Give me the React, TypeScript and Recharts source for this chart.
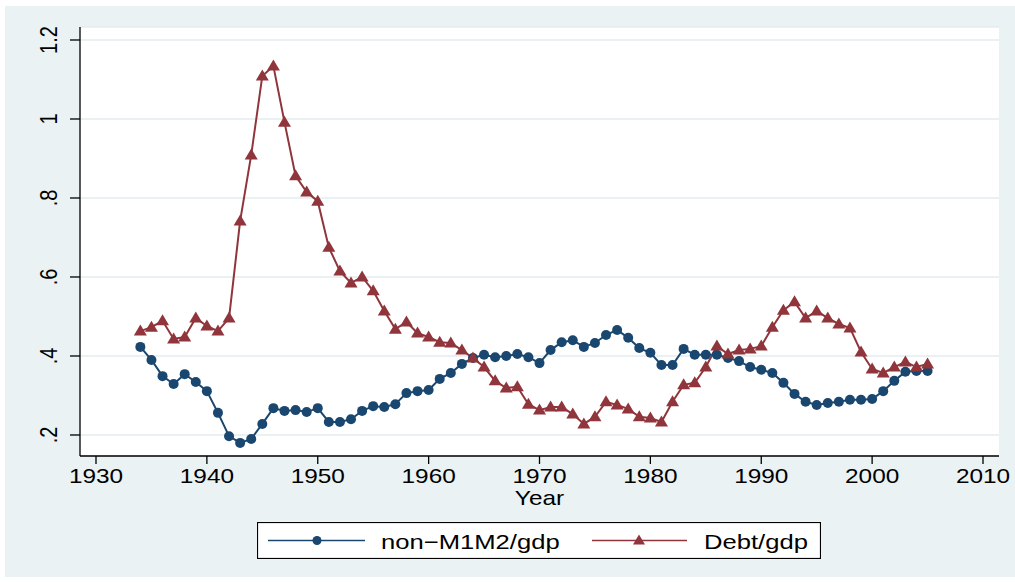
import { LineChart, Line, XAxis, YAxis, CartesianGrid, Legend } from "recharts"

// years 1934-2005
const years = [
  1934, 1935, 1936, 1937, 1938, 1939, 1940, 1941, 1942, 1943,
  1944, 1945, 1946, 1947, 1948, 1949, 1950, 1951, 1952, 1953,
  1954, 1955, 1956, 1957, 1958, 1959, 1960, 1961, 1962, 1963,
  1964, 1965, 1966, 1967, 1968, 1969, 1970, 1971, 1972, 1973,
  1974, 1975, 1976, 1977, 1978, 1979, 1980, 1981, 1982, 1983,
  1984, 1985, 1986, 1987, 1988, 1989, 1990, 1991, 1992, 1993,
  1994, 1995, 1996, 1997, 1998, 1999, 2000, 2001, 2002, 2003,
  2004, 2005,
]

const nonM1M2 = [
  0.423, 0.390, 0.349, 0.329, 0.354, 0.334, 0.311, 0.256, 0.197, 0.180,
  0.190, 0.228, 0.268, 0.261, 0.263, 0.258, 0.268, 0.233, 0.233, 0.240,
  0.261, 0.273, 0.271, 0.278, 0.306, 0.311, 0.314, 0.342, 0.357, 0.380,
  0.395, 0.403, 0.397, 0.400, 0.405, 0.397, 0.382, 0.415, 0.435, 0.440,
  0.423, 0.433, 0.453, 0.466, 0.446, 0.420, 0.408, 0.377, 0.377, 0.418,
  0.403, 0.403, 0.403, 0.395, 0.387, 0.372, 0.365, 0.357, 0.332, 0.304,
  0.284, 0.276, 0.281, 0.284, 0.289, 0.289, 0.291, 0.311, 0.337, 0.360,
  0.362, 0.362,
]

const debt = [
  0.463, 0.473, 0.489, 0.443, 0.448, 0.496, 0.476, 0.463, 0.496, 0.742,
  0.909, 1.109, 1.134, 0.992, 0.856, 0.815, 0.792, 0.675, 0.615, 0.585,
  0.600, 0.565, 0.514, 0.468, 0.486, 0.458, 0.448, 0.435, 0.433, 0.415,
  0.395, 0.372, 0.337, 0.319, 0.322, 0.278, 0.263, 0.271, 0.271, 0.253,
  0.228, 0.246, 0.284, 0.276, 0.266, 0.246, 0.243, 0.233, 0.284, 0.327,
  0.332, 0.372, 0.425, 0.405, 0.415, 0.418, 0.425, 0.473, 0.516, 0.537,
  0.496, 0.514, 0.496, 0.481, 0.471, 0.410, 0.367, 0.357, 0.372, 0.385,
  0.372, 0.380,
]

const xTicks = [1930, 1940, 1950, 1960, 1970, 1980, 1990, 2000, 2010]
const yTicks = [0.2, 0.4, 0.6, 0.8, 1, 1.2]
const yTickLabels = [".2", ".4", ".6", ".8", "1", "1.2"]

const data = years.map((year, i) => ({ year, nonM1M2: nonM1M2[i], debt: debt[i] }))

const BLUE = "#1A476F"
const RED = "#90353B"
const BG = "#EAF2F3"
const GRID = "#E3ECEE"
const FONT = "'Liberation Sans', Arial, Helvetica, sans-serif"
const STRETCH = 1.22

function XTick({ x, y, payload }: any) {
  return (
    <g transform={`translate(${x},${y})`}>
      <text x={0} y={17} textAnchor="middle" transform={`scale(${STRETCH},1)`} fontSize={20} fontFamily={FONT} fill="#000">
        {payload.value}
      </text>
    </g>
  )
}

function YTick({ x, y, payload }: any) {
  const i = yTicks.indexOf(payload.value)
  return (
    <g transform={`translate(${x - 11},${y}) scale(${STRETCH},1) rotate(-90)`}>
      <text x={0} y={0} textAnchor="middle" fontSize={20} fontFamily={FONT} fill="#000">
        {yTickLabels[i] ?? payload.value}
      </text>
    </g>
  )
}

function YearLabel(props: any) {
  const vb = props.viewBox
  const cx = vb.x + vb.width / 2
  return (
    <g transform={`translate(${cx},${vb.y + 49})`}>
      <text x={0} y={0} textAnchor="middle" transform={`scale(${STRETCH},1)`} fontSize={20} fontFamily={FONT} fill="#000">
        Year
      </text>
    </g>
  )
}

function Triangle({ cx, cy, index }: any) {
  if (cx == null || cy == null) return <g key={index} />
  return (
    <polygon
      key={index}
      points={`${cx},${cy - 6.5} ${cx - 6.5},${cy + 4.5} ${cx + 6.5},${cy + 4.5}`}
      fill={RED}
    />
  )
}

function Circle({ cx, cy, index }: any) {
  if (cx == null || cy == null) return <g key={index} />
  return <circle key={index} cx={cx} cy={cy} r={5} fill={BLUE} />
}

function LegendBox() {
  return (
    <svg width={564} height={37} style={{ display: "block" }}>
      <rect x={0.5} y={0.5} width={563} height={36} fill="#fff" stroke="#000" strokeWidth={1.2} />
      <line x1={11} x2={108} y1={18.5} y2={18.5} stroke={BLUE} strokeWidth={1.6} />
      <circle cx={60} cy={18.5} r={4.5} fill={BLUE} />
      <g transform={`translate(124,26.5) scale(${STRETCH},1)`}>
        <text x={0} y={0} fontSize={21} fontFamily={FONT} fill="#000">non−M1M2/gdp</text>
      </g>
      <line x1={335} x2={430} y1={18.5} y2={18.5} stroke={RED} strokeWidth={1.6} />
      <polygon points="382,12.5 376,22.5 388,22.5" fill={RED} />
      <g transform={`translate(447,26.5) scale(${STRETCH},1)`}>
        <text x={0} y={0} fontSize={21} fontFamily={FONT} fill="#000">Debt/gdp</text>
      </g>
    </svg>
  )
}

export default function App() {
  return (
    <div style={{ position: "absolute", left: 0, top: 0, width: 1015, height: 582, background: "#fff" }}>
      <div style={{ position: "absolute", left: 5, top: 6, width: 1010, height: 571, background: BG }} />
      <div style={{ position: "absolute", left: 0, top: 0 }}>
        <LineChart width={1015} height={582} data={data} margin={{ top: 27, right: 16, left: 5, bottom: 76 }}>
          <CartesianGrid vertical={false} fill="#fff" stroke={GRID} strokeWidth={1.5} />
          <XAxis
            dataKey="year"
            type="number"
            domain={[1928.557, 2011.443]}
            ticks={xTicks}
            height={50}
            tickSize={8}
            stroke="#000"
            strokeWidth={1.3}
            tick={<XTick />}
            label={{ content: YearLabel }}
          />
          <YAxis
            type="number"
            domain={[0.1468, 1.2329]}
            ticks={yTicks}
            width={75}
            tickSize={10}
            stroke="#000"
            strokeWidth={1.3}
            tick={<YTick />}
          />
          <Legend
            layout="horizontal"
            verticalAlign="middle"
            align="center"
            content={<LegendBox />}
            wrapperStyle={{ position: "absolute", left: 257, top: 522, width: 564, height: 37 }}
          />
          <Line
            type="linear"
            dataKey="nonM1M2"
            name="non−M1M2/gdp"
            stroke={BLUE}
            strokeWidth={2}
            dot={Circle}
            activeDot={false}
            isAnimationActive={false}
          />
          <Line
            type="linear"
            dataKey="debt"
            name="Debt/gdp"
            stroke={RED}
            strokeWidth={2}
            dot={Triangle}
            activeDot={false}
            isAnimationActive={false}
          />
        </LineChart>
      </div>
    </div>
  )
}
